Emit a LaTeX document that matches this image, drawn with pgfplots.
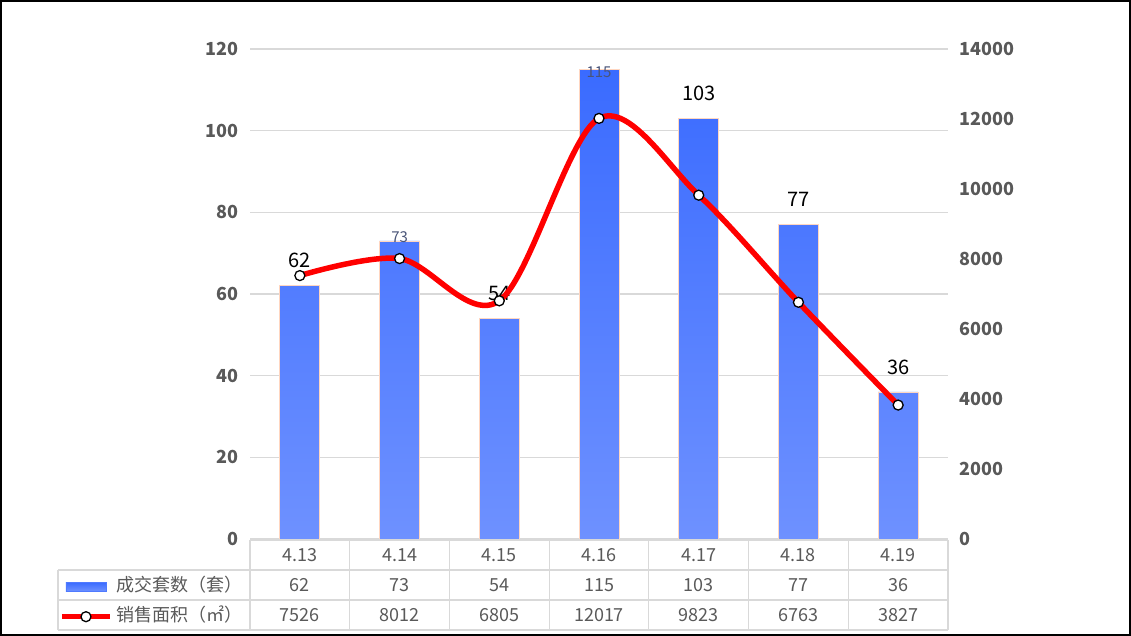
\documentclass[border=0pt]{standalone}
\usepackage{pgfplots}
\pgfplotsset{compat=1.18}
\usepackage{fontspec}
\setmainfont{Noto Sans CJK SC}
\definecolor{tickgray}{HTML}{595959}
\definecolor{gridgray}{HTML}{D9D9D9}
\definecolor{bartop}{HTML}{3A6BFF}
\definecolor{barbot}{HTML}{6E91FF}
\definecolor{glow}{HTML}{FFD6C0}
\definecolor{lbl}{HTML}{4A5578}
\begin{document}
\begin{tikzpicture}[x=1pt,y=1pt]
\useasboundingbox (0,0) rectangle (1131,636);
\begin{axis}[at={(250pt,97pt)}, anchor=south west, scale only axis,
  width=698pt, height=490pt,
  xmin=-0.5, xmax=6.5, ymin=0, ymax=120, ytick={0,20,...,120}, xtick=\empty,
  axis line style={draw=none}, major tick length=0pt,
  ymajorgrids, grid style={gridgray, line width=1.2pt},
  yticklabel style={font=\bfseries\fontsize{18}{18}\selectfont, text=tickgray, xshift=-8pt},
  /pgf/number format/assume math mode=true,
  clip=false,
  legend style={at={(axis description cs:-0.2736,-0.0796)}, anchor=north west,
    draw=none, fill=none, inner sep=0pt, row sep=13pt, column sep=4pt,
    font=\fontsize{18}{18}\selectfont, text=tickgray,
    nodes={text height=13pt, text depth=4pt, inner sep=0pt}},
  legend cell align=left]
\addplot[ybar, bar width=40pt, draw=glow, line width=0.8pt, top color=bartop, bottom color=barbot,
  legend image code/.code={\fill[color=bartop!60!barbot] (0pt,-4.5pt) rectangle (40pt,4.5pt);}]
  coordinates {(0,62)(1,73)(2,54)(3,115)(4,103)(5,77)(6,36)};
\addlegendentry{成交套数（套）}
\addlegendimage{legend image code/.code={\draw[red, line width=5.5pt] (-4pt,0pt) -- (44pt,0pt); \draw[black, fill=white, line width=1.3pt] (20pt,0pt) circle (5pt);}}
\addlegendentry{销售面积（㎡）}
\addplot[forget plot, draw=none, nodes near coords, point meta=explicit symbolic,
  every node near coord/.style={anchor=center, yshift=25pt, font=\fontsize{20}{20}\selectfont, text=black}]
  coordinates {(0,62)[62] (2,54)[54] (4,103)[103] (5,77)[77] (6,36)[36]};
\end{axis}
\begin{axis}[at={(250pt,97pt)}, anchor=south west, scale only axis,
  width=698pt, height=490pt,
  xmin=-0.5, xmax=6.5, ymin=0, ymax=14000, ytick={0,2000,...,14000}, xtick=\empty,
  yticklabel pos=right, scaled y ticks=false,
  axis line style={draw=none}, major tick length=0pt,
  yticklabel style={font=\bfseries\fontsize{18}{18}\selectfont, text=tickgray, xshift=8pt},
  /pgf/number format/assume math mode=true,
  /pgf/number format/1000 sep={},
  clip=false]
\addplot[red, line width=5.5pt, smooth, tension=0.55, mark=*, mark size=5pt,
  mark options={fill=white, draw=black, line width=1.3pt}]
  coordinates {(0,7526)(1,8012)(2,6805)(3,12017)(4,9823)(5,6763)(6,3827)};
\end{axis}
\begin{axis}[at={(250pt,97pt)}, anchor=south west, scale only axis,
  width=698pt, height=490pt,
  xmin=-0.5, xmax=6.5, ymin=0, ymax=120, hide axis, clip=false]
\addplot[forget plot, draw=none, nodes near coords, point meta=explicit symbolic,
  every node near coord/.style={anchor=center, font=\fontsize{15}{15}\selectfont, text=lbl}]
  coordinates {(3,114.2)[115] (1,74)[73]};
\end{axis}
% table grid
\begin{scope}[draw=gridgray, line width=1.2pt]
\draw (250,96) -- (948,96);
\foreach \y in {66,36,6} \draw (58,\y) -- (948,\y);
\draw (58,66) -- (58,6);
\foreach \i in {0,...,7} \draw ({250+\i*99.714},96) -- ({250+\i*99.714},6);
\end{scope}
\begin{scope}[every node/.style={font=\fontsize{18}{18}\selectfont, text=tickgray, anchor=center}]
\foreach \t [count=\i from 0] in {4.13,4.14,4.15,4.16,4.17,4.18,4.19}
  \node at ({299.857+\i*99.714},81) {\t};
\foreach \t [count=\i from 0] in {62,73,54,115,103,77,36}
  \node at ({299.857+\i*99.714},51) {\t};
\foreach \t [count=\i from 0] in {7526,8012,6805,12017,9823,6763,3827}
  \node at ({299.857+\i*99.714},21) {\t};
\end{scope}
\draw[black, line width=2pt] (1,1) rectangle (1130,635);
\end{tikzpicture}
\end{document}
